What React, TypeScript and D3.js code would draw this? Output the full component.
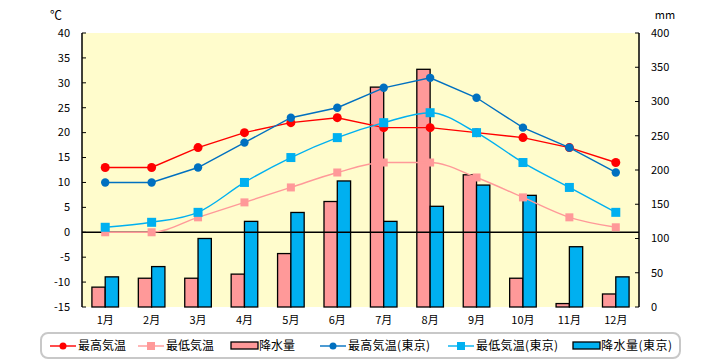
import { useMemo } from "react";
import { scaleBand, scaleLinear, line as d3Line, curveMonotoneX, curveLinear } from "d3";

const months = ["1月", "2月", "3月", "4月", "5月", "6月", "7月", "8月", "9月", "10月", "11月", "12月"];
const highTemp = [13, 13, 17, 20, 22, 23, 21, 21, 20, 19, 17, 14];
const lowTemp = [0, 0, 3, 6, 9, 12, 14, 14, 11, 7, 3, 1];
const rain = [29, 42, 42, 48, 78, 154, 321, 347, 193, 42, 5, 19];
const highTokyo = [10, 10, 13, 18, 23, 25, 29, 31, 27, 21, 17, 12];
const lowTokyo = [1, 2, 4, 10, 15, 19, 22, 24, 20, 14, 9, 4];
const rainTokyo = [44, 59, 100, 125, 138, 184, 125, 147, 178, 163, 88, 44];
const tempTicks = [40, 35, 30, 25, 20, 15, 10, 5, 0, -5, -10, -15];
const rainTicks = [400, 350, 300, 250, 200, 150, 100, 50, 0];

const RED = "#ff0000";
const PINK = "#ff9999";
const NAVY = "#0070c0";
const SKY = "#00b0f0";
const BG = "#fffccc";
const FONT = "'Noto Sans CJK JP', 'DejaVu Sans', sans-serif";

const PLOT = { left: 82, right: 639, top: 33, bottom: 307 } as const;

type Series = {
  key: string;
  values: number[];
  color: string;
  marker: "circle" | "square";
  size: number;
  curve: typeof curveLinear;
};

const series: Series[] = [
  { key: "high", values: highTemp, color: RED, marker: "circle", size: 4.5, curve: curveLinear },
  { key: "low", values: lowTemp, color: PINK, marker: "square", size: 4, curve: curveMonotoneX },
  { key: "highTokyo", values: highTokyo, color: NAVY, marker: "circle", size: 4.2, curve: curveLinear },
  { key: "lowTokyo", values: lowTokyo, color: SKY, marker: "square", size: 4.5, curve: curveMonotoneX },
];

type LegendItem = { label: string; x: number; kind: "circle" | "square" | "bar"; color: string; len?: number };
const legendItems: LegendItem[] = [
  { label: "最高気温", x: 50, kind: "circle", color: RED },
  { label: "最低気温", x: 138, kind: "square", color: PINK },
  { label: "降水量", x: 231, kind: "bar", color: PINK },
  { label: "最高気温(東京)", x: 320, kind: "circle", color: NAVY, len: 82 },
  { label: "最低気温(東京)", x: 448, kind: "square", color: SKY, len: 82 },
  { label: "降水量(東京)", x: 573, kind: "bar", color: SKY, len: 71 },
];

export default function App() {
  const x = useMemo(
    () => scaleBand<string>().domain(months).range([PLOT.left, PLOT.right]).paddingInner(0).paddingOuter(0),
    [],
  );
  const yT = useMemo(() => scaleLinear().domain([-15, 40]).range([PLOT.bottom, PLOT.top]), []);
  const yR = useMemo(() => scaleLinear().domain([0, 400]).range([PLOT.bottom, PLOT.top]), []);

  const barW = 13.3;
  const cx = (i: number) => (x(months[i]) ?? 0) + x.bandwidth() / 2;

  return (
    <svg
      width={720}
      height={360}
      style={{ position: "absolute", left: 0, top: 0, fontFamily: FONT }}
    >
      <rect x={0} y={0} width={720} height={360} fill="#ffffff" />
      <rect x={PLOT.left} y={PLOT.top} width={PLOT.right - PLOT.left} height={PLOT.bottom - PLOT.top} fill={BG} />

      {/* bars */}
      {months.map((m, i) => (
        <g key={m}>
          <rect
            x={cx(i) - barW}
            y={yR(rain[i])}
            width={barW}
            height={PLOT.bottom - yR(rain[i])}
            fill={PINK}
            stroke="#000"
            strokeWidth={1.3}
          />
          <rect
            x={cx(i)}
            y={yR(rainTokyo[i])}
            width={barW}
            height={PLOT.bottom - yR(rainTokyo[i])}
            fill={SKY}
            stroke="#000"
            strokeWidth={1.3}
          />
        </g>
      ))}

      {/* zero line */}
      <line x1={PLOT.left} x2={PLOT.right} y1={yT(0)} y2={yT(0)} stroke="#000" strokeWidth={1.3} />

      {/* axes */}
      <line x1={PLOT.left} x2={PLOT.left} y1={PLOT.top} y2={PLOT.bottom} stroke="#000" strokeWidth={1.5} />
      <line x1={PLOT.right} x2={PLOT.right} y1={PLOT.top} y2={PLOT.bottom} stroke="#000" strokeWidth={1.5} />
      {tempTicks.map((t) => (
        <g key={`t${t}`}>
          <line x1={PLOT.left} x2={PLOT.left + 4} y1={yT(t)} y2={yT(t)} stroke="#000" />
          <text x={70} y={yT(t)} dy="0.35em" textAnchor="end" fontSize={11} fill="#000">
            {t}
          </text>
        </g>
      ))}
      {rainTicks.map((t) => (
        <g key={`r${t}`}>
          <line x1={PLOT.right - 4} x2={PLOT.right} y1={yR(t)} y2={yR(t)} stroke="#000" />
          <text x={651} y={yR(t)} dy="0.35em" textAnchor="start" fontSize={11} fill="#000">
            {t}
          </text>
        </g>
      ))}
      <text x={56} y={16} dy="0.35em" textAnchor="middle" fontSize={12} fill="#000">
        ℃
      </text>
      <text x={665} y={15} dy="0.35em" textAnchor="middle" fontSize={11} fill="#000">
        mm
      </text>
      {months.map((m, i) => (
        <text key={`m${m}`} x={cx(i)} y={320} dy="0.35em" textAnchor="middle" fontSize={11} fill="#000">
          {m}
        </text>
      ))}

      {/* lines */}
      {series.map((s) => {
        const path =
          d3Line<number>()
            .x((_, i) => cx(i))
            .y((v) => yT(v))
            .curve(s.curve)(s.values) ?? "";
        return (
          <g key={s.key}>
            <path d={path} fill="none" stroke={s.color} strokeWidth={1.4} />
            {s.values.map((v, i) =>
              s.marker === "circle" ? (
                <circle key={i} cx={cx(i)} cy={yT(v)} r={s.size} fill={s.color} />
              ) : (
                <rect
                  key={i}
                  x={cx(i) - s.size}
                  y={yT(v) - s.size}
                  width={s.size * 2}
                  height={s.size * 2}
                  fill={s.color}
                />
              ),
            )}
          </g>
        );
      })}

      {/* legend */}
      <rect x={41} y={333} width={639} height={25} rx={7} ry={7} fill="#fff" stroke="#c8c8c8" strokeWidth={2} />
      {legendItems.map((it) => {
        const my = 346;
        return (
          <g key={it.label}>
            {it.kind === "bar" ? (
              <rect x={it.x} y={my - 4} width={27} height={7} fill={it.color} stroke="#000" strokeWidth={1.3} />
            ) : (
              <>
                <line x1={it.x} x2={it.x + 26} y1={my} y2={my} stroke={it.color} strokeWidth={1.4} />
                {it.kind === "circle" ? (
                  <circle cx={it.x + 13} cy={my} r={3.5} fill={it.color} />
                ) : (
                  <rect x={it.x + 9} y={my - 4} width={8} height={8} fill={it.color} />
                )}
              </>
            )}
            <text
              x={it.x + 28}
              y={my}
              dy="0.35em"
              fontSize={12}
              fill="#000"
              textLength={it.len}
              lengthAdjust={it.len ? "spacing" : undefined}
            >
              {it.label}
            </text>
          </g>
        );
      })}
    </svg>
  );
}
